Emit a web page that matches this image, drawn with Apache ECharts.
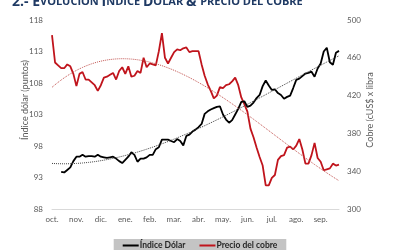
<!DOCTYPE html>
<html>
<head>
<meta charset="utf-8">
<script src="https://cdn.jsdelivr.net/npm/echarts@6/dist/echarts.min.js"></script>
<style>
  html, body { margin: 0; padding: 0; background: #fff; }
  #chart { width: 400px; height: 250px; }
</style>
</head>
<body>
<div id="chart"></div>
<script>
// months shown on the x axis, one label every 8 samples
const months = ['oct.', 'nov.', 'dic.', 'ene.', 'feb.', 'mar.', 'abr.', 'may.', 'jun.', 'jul.', 'ago.', 'sep.'];

// Índice Dólar (puntos), left axis
const dollarIndex = [
  null, null, null, 93.9, 93.8, 94.2, 94.6, 95.6, 96.3, 96.3,
  96.6, 96.3, 96.4, 96.4, 96.3, 96.6, 96.3, 96.2, 96.1, 96.2,
  96.3, 96.0, 95.6, 95.3, 95.8, 96.3, 97.0, 96.6, 95.5, 96.0,
  96.0, 96.2, 96.6, 96.6, 97.5, 97.8, 99.0, 99.0, 99.0, 98.8,
  98.6, 99.1, 98.8, 98.1, 99.6, 99.8, 100.3, 100.6, 101.0, 101.5,
  103.1, 103.5, 103.8, 104.0, 104.2, 104.3, 103.0, 102.2, 101.7, 102.1,
  103.0, 103.9, 105.0, 105.1, 104.2, 104.4, 104.9, 105.6, 106.1, 107.5,
  108.4, 107.6, 106.9, 107.0, 106.4, 106.1, 105.5, 105.8, 106.0, 107.2,
  108.5, 108.7, 109.1, 109.5, 109.6, 109.8, 109.0, 110.3, 111.1, 113.0,
  113.6, 111.3, 110.9, 112.8, 113.1
];

// Precio del cobre (cUS$ x libra), right axis
const copperPrice = [
  484, 455, 452, 449, 449, 453, 451, 443, 430, 443,
  445, 437, 437, 434, 431, 425, 431, 439, 440, 442,
  444, 437, 446, 450, 443, 451, 440, 441, 446, 444,
  460, 450, 454, 453, 452, 467, 486, 460, 454, 460,
  466, 469, 468, 470, 471, 466, 467, 467, 467, 453,
  441, 432, 425, 417, 420, 429, 428, 431, 432, 435,
  439, 431, 418, 411, 403, 385, 376, 365, 355, 346,
  325, 325, 333, 336, 352, 356, 357, 365, 366, 363,
  367, 374, 363, 348, 348, 357, 370, 354, 350, 341,
  342, 343, 348, 346, 347
];

// least squares polynomial (Excel style polynomial trendline)
function polyTrend(values, order) {
  const n = order + 1;
  const m = [];
  for (let i = 0; i < n; i++) m.push(new Array(n + 1).fill(0));
  values.forEach((y, i) => {
    if (y == null) return;
    const x = i / 10; // scaled to keep the sums well conditioned
    for (let r = 0; r < n; r++) {
      for (let c = 0; c < n; c++) m[r][c] += Math.pow(x, r + c);
      m[r][n] += Math.pow(x, r) * y;
    }
  });
  for (let i = 0; i < n; i++) {
    for (let j = i + 1; j < n; j++) {
      const f = m[j][i] / m[i][i];
      for (let k = i; k <= n; k++) m[j][k] -= f * m[i][k];
    }
  }
  const coef = new Array(n).fill(0);
  for (let i = n - 1; i >= 0; i--) {
    let v = m[i][n];
    for (let k = i + 1; k < n; k++) v -= m[i][k] * coef[k];
    coef[i] = v / m[i][i];
  }
  return values.map((_, i) => {
    const x = i / 10;
    return [i, coef.reduce((s, a, k) => s + a * Math.pow(x, k), 0)];
  });
}

const toPoints = arr => arr.map((v, i) => [i, v]);

const chart = echarts.init(document.getElementById('chart'));

const big = { fontSize: 14, fontWeight: 'bold', color: '#1f3a64', fontFamily: 'Open Sans' };
const small = { fontSize: 11, fontWeight: 'bold', color: '#1f3a64', fontFamily: 'Open Sans' };

chart.setOption({
  animation: false,
  title: {
    text: '{b|2.- E}{s|VOLUCIÓN }{b|Í}{s|NDICE }{b|D}{s|ÓLAR }{b|& }{s|PRECIO DEL COBRE}',
    left: 12,
    top: -5,
    padding: 0,
    textStyle: { rich: { b: big, s: small } }
  },
  legend: {
    data: ['Índice Dólar', 'Precio del cobre'],
    left: 'center',
    bottom: -3,
    backgroundColor: '#c4c4c4',
    padding: [2, 9, 3, 9],
    itemWidth: 16,
    itemHeight: 2,
    itemGap: 14,
    icon: 'rect',
    textStyle: { fontSize: 8.5, fontWeight: 'bold', color: '#262626', fontFamily: 'Lato', padding: [0, 0, 0, -4] }
  },
  grid: { left: 52, right: 61, top: 20, bottom: 41 },
  xAxis: {
    type: 'value',
    min: 0,
    max: dollarIndex.length - 1,
    interval: 8,
    axisLine: { show: true, lineStyle: { color: '#d9d9d9', width: 1 } },
    axisTick: { show: false },
    splitLine: { show: false },
    axisLabel: {
      fontSize: 8,
      color: '#595959',
      fontFamily: 'Lato',
      margin: 6,
      formatter: v => (v % 8 === 0 && months[v / 8]) ? months[v / 8] : ''
    }
  },
  yAxis: [
    {
      type: 'value',
      min: 88,
      max: 118,
      interval: 5,
      axisLine: { show: false },
      axisTick: { show: false },
      splitLine: { show: false },
      axisLabel: { fontSize: 8, color: '#595959', fontFamily: 'Lato', margin: 9 }
    },
    {
      type: 'value',
      min: 300,
      max: 500,
      interval: 40,
      position: 'right',
      axisLine: { show: false },
      axisTick: { show: false },
      splitLine: { show: false },
      axisLabel: { fontSize: 8, color: '#595959', fontFamily: 'Lato', margin: 8 }
    }
  ],
  graphic: [
    {
      type: 'text', x: 25, y: 100, rotation: Math.PI / 2,
      style: { text: 'Índice dólar (puntos)', fontSize: 9, fill: '#595959', fontFamily: 'Lato', align: 'center', verticalAlign: 'middle' }
    },
    {
      type: 'text', x: 370, y: 110, rotation: Math.PI / 2,
      style: { text: 'Cobre (cUS$ x libra', fontSize: 9, fill: '#595959', fontFamily: 'Lato', align: 'center', verticalAlign: 'middle' }
    }
  ],
  series: [
    {
      name: 'Precio del cobre',
      type: 'line',
      yAxisIndex: 1,
      data: toPoints(copperPrice),
      showSymbol: false,
      lineStyle: { color: '#c0141c', width: 1.8 },
      itemStyle: { color: '#c0141c' }
    },
    {
      name: 'Índice Dólar',
      type: 'line',
      yAxisIndex: 0,
      data: toPoints(dollarIndex),
      showSymbol: false,
      lineStyle: { color: '#000', width: 1.8 },
      itemStyle: { color: '#000' }
    },
    {
      name: 'Tendencia cobre',
      type: 'line',
      yAxisIndex: 1,
      data: polyTrend(copperPrice, 3),
      showSymbol: false,
      silent: true,
      z: 3,
      lineStyle: { color: '#c0504d', width: 1, type: 'dotted' }
    },
    {
      name: 'Tendencia dólar',
      type: 'line',
      yAxisIndex: 0,
      data: polyTrend(dollarIndex, 3),
      showSymbol: false,
      silent: true,
      z: 3,
      lineStyle: { color: '#404040', width: 1, type: 'dotted' }
    }
  ]
});

window.addEventListener('resize', () => chart.resize());
</script>
</body>
</html>
